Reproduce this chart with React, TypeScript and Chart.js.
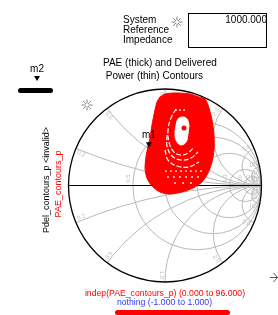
import React, { useEffect, useRef } from "react";
import { Chart, registerables } from "chart.js";

Chart.register(...registerables);

// Smith chart grid values
const resistanceCircles = [0.5, 1, 2, 5, 10, 20, 50];
const resistanceLabels = ["0.5", "1.0", "2.0", "5.0", "10", "20", "50"];
const reactanceArcs = [0.2, 0.5, 1, 2, 5, 10, 20, 50];
const reactanceLabels = ["0.2", "0.5", "1.0", "2.0", "5.0", "10", "20", "50"];

// PAE contour region (reflection coefficient: real / imaginary)
const paeOutlineRe = [-0.052, 0.0, 0.104, 0.259, 0.352, 0.415, 0.456, 0.487, 0.508, 0.508, 0.487, 0.446, 0.383, 0.29, 0.176, 0.052, -0.052, -0.135, -0.187, -0.207, -0.197, -0.176, -0.155, -0.135, -0.104, -0.083];
const paeOutlineIm = [0.917, 0.948, 0.959, 0.948, 0.917, 0.896, 0.803, 0.679, 0.523, 0.368, 0.244, 0.13, 0.036, -0.026, -0.067, -0.088, -0.067, -0.005, 0.078, 0.181, 0.295, 0.409, 0.492, 0.627, 0.782, 0.865];

// innermost gap contour
const innerRe = [0.249, 0.228, 0.187, 0.135, 0.114, 0.104, 0.124, 0.166, 0.218, 0.238];
const innerIm = [0.627, 0.689, 0.71, 0.689, 0.617, 0.523, 0.451, 0.42, 0.451, 0.534];

// peak
const peakRe = [0.197];
const peakIm = [0.596];

// thin gap contours
const gap1Re = [0.114, 0.062, 0.031, 0.041, 0.083, 0.155, 0.238, 0.301];
const gap1Im = [0.793, 0.699, 0.575, 0.451, 0.358, 0.316, 0.337, 0.399];
const gap2Re = [0.021, 0.021, 0.073, 0.166, 0.269, 0.342];
const gap2Im = [0.523, 0.409, 0.306, 0.264, 0.285, 0.347];
const gap3Re = [0.0, 0.031, 0.124, 0.249, 0.352];
const gap3Im = [0.368, 0.264, 0.202, 0.192, 0.244];

// dotted gap contours
const dotsRe = [0.01, 0.062, 0.114, 0.166, 0.218, 0.269, 0.321, 0.373, 0.031, 0.093, 0.155, 0.218, 0.28, 0.342, 0.104, 0.187, 0.269, 0.114, 0.155, 0.197];
const dotsIm = [0.15, 0.15, 0.15, 0.15, 0.15, 0.15, 0.15, 0.15, 0.088, 0.088, 0.088, 0.088, 0.088, 0.088, 0.026, 0.026, 0.026, 0.782, 0.782, 0.782];

// marker m1
const m1Re = [-0.166];
const m1Im = [0.43];

const pts = (re: number[], im: number[]) => re.map((v, i) => ({ x: v, y: im[i] }));
const closed = (re: number[], im: number[]) => {
  const p = pts(re, im);
  return [...p, p[0]];
};

const FONT = '"Liberation Sans", Arial, sans-serif';

const smithGrid = {
  id: "smithGrid",
  beforeDatasetsDraw(chart: any) {
    const { ctx } = chart;
    const xs = chart.scales.x;
    const ys = chart.scales.y;
    const cx = xs.getPixelForValue(0);
    const cy = ys.getPixelForValue(0);
    const R = xs.getPixelForValue(1) - cx;
    const unitX = R;
    ctx.save();
    ctx.beginPath();
    ctx.arc(cx, cy, R, 0, Math.PI * 2);
    ctx.clip();
    ctx.strokeStyle = "#b8b8b8";
    ctx.lineWidth = 1;
    resistanceCircles.forEach((r) => {
      const c = xs.getPixelForValue(r / (1 + r));
      const rad = unitX / (1 + r);
      ctx.beginPath();
      ctx.arc(c, cy, rad, 0, Math.PI * 2);
      ctx.stroke();
    });
    reactanceArcs.forEach((xv) => {
      [1, -1].forEach((s) => {
        const ccx = xs.getPixelForValue(1);
        const ccy = ys.getPixelForValue(s / xv);
        const rad = unitX / xv;
        ctx.beginPath();
        ctx.arc(ccx, ccy, rad, 0, Math.PI * 2);
        ctx.stroke();
      });
    });
    ctx.restore();

    // labels
    ctx.save();
    ctx.fillStyle = "#bdbdbd";
    ctx.font = `6px ${FONT}`;
    ctx.textAlign = "center";
    ctx.textBaseline = "middle";
    resistanceCircles.forEach((r, i) => {
      const px = xs.getPixelForValue((r - 1) / (r + 1));
      ctx.save();
      ctx.translate(px - 4, cy - 7);
      ctx.rotate(-Math.PI / 2);
      ctx.fillText(resistanceLabels[i], 0, 0);
      ctx.restore();
    });
    reactanceArcs.forEach((xv, i) => {
      [1, -1].forEach((s) => {
        const d = xv * xv + 1;
        const gr = (xv * xv - 1) / d;
        const gi = (s * 2 * xv) / d;
        const px = xs.getPixelForValue(gr);
        const py = ys.getPixelForValue(gi);
        const th = Math.atan2(gi, gr);
        const ux = Math.cos(th);
        const uy = -Math.sin(th);
        let ang = Math.atan2(uy, ux);
        if (ang > Math.PI / 2) ang -= Math.PI;
        if (ang < -Math.PI / 2) ang += Math.PI;
        const lx = px - 7 * ux + 3 * uy * s;
        const ly = py - 7 * uy - 3 * ux * s;
        ctx.save();
        ctx.translate(lx, ly);
        ctx.rotate(ang);
        ctx.fillText(reactanceLabels[i], 0, 0);
        ctx.restore();
      });
    });
    ctx.restore();

    // real axis and boundary
    ctx.save();
    ctx.strokeStyle = "#000";
    ctx.lineWidth = 1;
    ctx.beginPath();
    ctx.moveTo(xs.getPixelForValue(-1), Math.round(cy) - 0.5);
    ctx.lineTo(xs.getPixelForValue(1), Math.round(cy) - 0.5);
    ctx.stroke();
    ctx.lineWidth = 1.3;
    ctx.beginPath();
    ctx.arc(cx, cy, R, 0, Math.PI * 2);
    ctx.stroke();
    ctx.restore();
  },
  afterDatasetsDraw(chart: any) {
    const { ctx } = chart;
    const idx = chart.data.datasets.findIndex((d: any) => d.label === "m1");
    const meta = chart.getDatasetMeta(idx);
    const el = meta.data[0];
    if (!el) return;
    ctx.save();
    ctx.fillStyle = "#000";
    ctx.font = `10px ${FONT}`;
    ctx.textAlign = "center";
    ctx.textBaseline = "middle";
    ctx.fillText("m1", el.x, el.y - 9);
    ctx.restore();
  },
  afterDraw(chart: any) {
    const { ctx } = chart;
    const star = (x: number, y: number) => {
      ctx.save();
      ctx.strokeStyle = "#666";
      ctx.lineWidth = 0.8;
      for (let k = 0; k < 8; k++) {
        const a = (k * Math.PI) / 4;
        ctx.beginPath();
        ctx.moveTo(x + 1.5 * Math.cos(a), y + 1.5 * Math.sin(a));
        ctx.lineTo(x + 5.5 * Math.cos(a), y + 5.5 * Math.sin(a));
        ctx.stroke();
      }
      ctx.restore();
    };
    star(177, 22);
    star(87, 105);
    ctx.save();
    ctx.strokeStyle = "#555";
    ctx.lineWidth = 1;
    ctx.beginPath();
    ctx.moveTo(270, 277.5);
    ctx.lineTo(278, 277.5);
    ctx.moveTo(273.5, 273);
    ctx.lineTo(277.5, 277.5);
    ctx.lineTo(273.5, 282);
    ctx.stroke();
    ctx.restore();
  },
};

function SmithChart() {
  const ref = useRef<HTMLCanvasElement>(null);
  useEffect(() => {
    if (!ref.current) return;
    const lineDs = (label: string, re: number[], im: number[]) => ({
      label,
      data: pts(re, im),
      order: 3,
      showLine: true,
      borderColor: "#ffffff",
      borderWidth: 1.2,
      borderDash: [5, 2],
      pointRadius: 0,
      tension: 0.4,
      fill: false,
    });
    const chart = new Chart(ref.current, {
      type: "line",
      data: {
        datasets: [
          {
            label: "PAE_contours_p",
            data: closed(paeOutlineRe, paeOutlineIm),
            order: 9,
            showLine: true,
            fill: "shape",
            backgroundColor: "#ff0000",
            borderColor: "#ff0000",
            borderWidth: 1,
            pointRadius: 0,
            tension: 0.3,
          },
          {
            label: "inner",
            data: closed(innerRe, innerIm),
            order: 5,
            showLine: true,
            fill: "shape",
            backgroundColor: "#ffffff",
            borderColor: "#ffffff",
            borderWidth: 1,
            pointRadius: 0,
            tension: 0.4,
          },
          lineDs("gap1", gap1Re, gap1Im),
          lineDs("gap2", gap2Re, gap2Im),
          lineDs("gap3", gap3Re, gap3Im),
          {
            label: "dots",
            data: pts(dotsRe, dotsIm),
            order: 2,
            showLine: false,
            pointRadius: 0.9,
            pointBackgroundColor: "#ffffff",
            pointBorderWidth: 0,
            fill: false,
          },
          {
            label: "peak",
            data: pts(peakRe, peakIm),
            order: 1,
            showLine: false,
            pointRadius: 2.5,
            pointBackgroundColor: "#ff0000",
            pointBorderWidth: 0,
            fill: false,
          },
          {
            label: "m1",
            data: pts(m1Re, m1Im),
            order: 0,
            showLine: false,
            pointStyle: "triangle",
            pointRotation: 180,
            pointRadius: 3.5,
            pointBackgroundColor: "#000",
            pointBorderColor: "#000",
            pointBorderWidth: 0,
            fill: false,
          },
        ],
      },
      options: {
        responsive: false,
        maintainAspectRatio: false,
        animation: false,
        devicePixelRatio: 1,
        events: [],
        layout: { padding: { left: 68.5, right: 16.5, top: 89, bottom: 33 } },
        scales: {
          x: { type: "linear", min: -1, max: 1, display: false },
          y: { type: "linear", min: -1, max: 1, display: false },
        },
        plugins: { legend: { display: false }, tooltip: { enabled: false }, title: { display: false } },
      },
      plugins: [smithGrid],
    } as any);
    return () => chart.destroy();
  }, []);
  return <canvas ref={ref} width={278} height={315} style={{ position: "absolute", left: 0, top: 0, width: 278, height: 315 }} />;
}

const abs = (s: any) => ({ position: "absolute" as const, whiteSpace: "nowrap" as const, fontFamily: FONT, ...s });

export default function App() {
  return (
    <div style={{ position: "fixed", left: 0, top: 0, width: 278, height: 315, background: "#fff", overflow: "hidden" }}>
      <SmithChart />
      <div style={abs({ left: 123, top: 15, fontSize: 10, lineHeight: "10px", color: "#000" })}>
        System<br />Reference<br />Impedance
      </div>
      <div style={abs({ left: 188, top: 13, width: 79, height: 35, border: "1px solid #000", boxSizing: "border-box" })} />
      <div style={abs({ left: 187, top: 15, width: 80, textAlign: "right", fontSize: 10, lineHeight: "10px", color: "#000" })}>1000.000</div>
      <div style={abs({ left: 103, top: 55.5, fontSize: 10, lineHeight: "13px", color: "#000", whiteSpace: "pre" })}>
        {"PAE (thick) and Delivered\n Power (thin) Contours"}
      </div>
      <div style={abs({ left: 37, top: 69, fontSize: 10, lineHeight: "10px", transform: "translate(-50%,-50%)" })}>m2</div>
      <div style={abs({ left: 34, top: 76, width: 0, height: 0, borderLeft: "3px solid transparent", borderRight: "3px solid transparent", borderTop: "5px solid #000" })} />
      <div style={abs({ left: 18, top: 88, width: 35, height: 4.5, borderRadius: 3, background: "#000" })} />
      <div style={abs({ left: 46, top: 180, fontSize: 9, lineHeight: "9px", color: "#000", transform: "translate(-50%,-50%) rotate(-90deg)" })}>
        {"Pdel_contours_p <invalid>"}
      </div>
      <div style={abs({ left: 57.5, top: 183.5, fontSize: 9, lineHeight: "9px", color: "#ff0000", transform: "translate(-50%,-50%) rotate(-90deg)" })}>
        PAE_contours_p
      </div>
      <div style={abs({ left: 165, top: 293, fontSize: 8.7, lineHeight: "9px", color: "#ff0000", transform: "translate(-50%,-50%)" })}>
        indep(PAE_contours_p) (0.000 to 96.000)
      </div>
      <div style={abs({ left: 164.5, top: 302, fontSize: 8.7, lineHeight: "9px", color: "#3333ff", transform: "translate(-50%,-50%)" })}>
        nothing (-1.000 to 1.000)
      </div>
      <div style={abs({ left: 115, top: 310, width: 115, height: 4.5, borderRadius: 3, background: "#ff0000" })} />
    </div>
  );
}
